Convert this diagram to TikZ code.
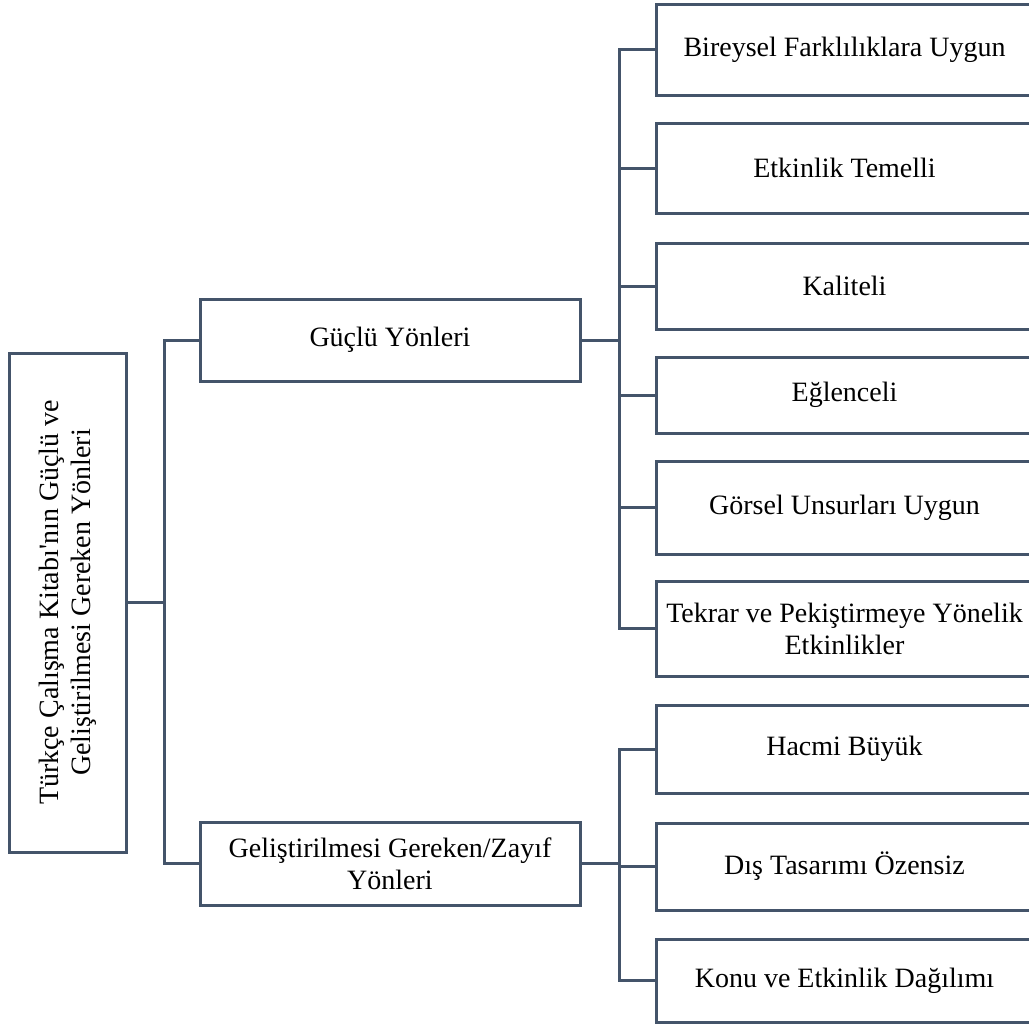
\documentclass[tikz,border=0pt]{standalone}
\usepackage{fontspec}
\setmainfont{Liberation Serif}
\usetikzlibrary{positioning}

\definecolor{cizgi}{HTML}{44546A}

\begin{document}
\begin{tikzpicture}[x=0.5pt,y=-0.5pt,
	kutu/.style={draw=cizgi,line width=1.5pt,fill=white,align=center,
		font=\fontsize{14}{16}\selectfont,inner sep=2pt},
	bag/.style={draw=cizgi,line width=1.5pt}]
	\useasboundingbox (0,0) rectangle (1029,1025);
	\clip (0,0) rectangle (1029,1025);
	% ana kutu
	\node[kutu,rotate=90,minimum width=249.5pt,minimum height=58.5pt] (kok) at (67.5,602.5)
		{Türkçe Çalışma Kitabı\textquotesingle nın Güçlü ve\\Geliştirilmesi Gereken Yönleri};
	\node[kutu,minimum width=190pt,minimum height=41pt] (guclu) at (390,340) {Güçlü Yönleri};
	\node[kutu,minimum width=190pt,minimum height=41.5pt] (gelis) at (390,863.5)
		{Geliştirilmesi Gereken/Zayıf\\Yönleri};
	% güçlü yönler
	\foreach \ad/\y/\h/\metin in {b1/49.5/45.5/Bireysel Farklılıklara Uygun,
			b2/168/45/Etkinlik Temelli,b3/286/43/Kaliteli,b4/395/38/Eğlenceli,
			b5/507.5/46.5/Görsel Unsurları Uygun,
			b6/628.5/47.5/{Tekrar ve Pekiştirmeye Yönelik\\Etkinlikler}}
		\node[kutu,minimum width=188.5pt,minimum height=\h pt] (\ad) at (844.5,\y) {\metin};
	% zayıf yönler
	\foreach \ad/\y/\h/\metin in {z1/749/44/Hacmi Büyük,z2/866.5/43.5/Dış Tasarımı Özensiz,
			z3/980.5/41.5/Konu ve Etkinlik Dağılımı}
		\node[kutu,minimum width=188.5pt,minimum height=\h pt] (\ad) at (844.5,\y) {\metin};
	% bağlantılar
	\draw[bag] (kok.south) -- ++(37,0) coordinate (d1);
	\draw[bag] (guclu.west) -| (d1) |- (gelis.west);
	\draw[bag] (guclu.east) -- ++(38,0) coordinate (d2);
	\foreach \ad in {b1,b2,b3,b4,b5,b6}
		\draw[bag] (d2) |- (\ad.west);
	\draw[bag] (gelis.east) -- ++(38,0) coordinate (d3);
	\foreach \ad in {z1,z2,z3}
		\draw[bag] (d3) |- (\ad.west);
\end{tikzpicture}
\end{document}
